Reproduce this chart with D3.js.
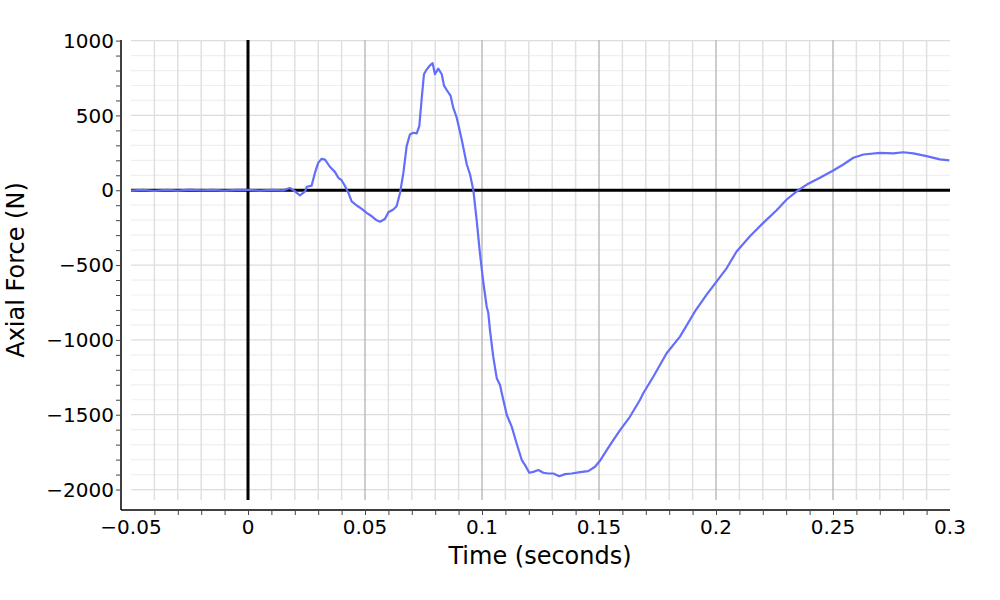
<html>
  <head>
    <meta charset="utf-8">
    <style>
      body { margin: 0; background: #fff; }
      svg { font-family: "DejaVu Sans", Verdana, sans-serif; }
      .trace {
        fill: none;
        stroke: #636efa;
        stroke-width: 2.2px;
        stroke-linejoin: round;
      }
      .tick-label { font-size: 20px; fill: #000; }
      .axis-title { font-size: 24px; fill: #000; }
    </style>
  </head>
<body>
  <svg width="1000" height="600"></svg>
  <script src="https://d3js.org/d3.v7.min.js"></script>
  <script>
    // time in seconds, axial force in newtons
    var timeS = [
      -0.0500, -0.0450, -0.0400, -0.0350, -0.0300, -0.0250, -0.0200, -0.0150,
      -0.0100, -0.0050, 0.0000, 0.0050, 0.0100, 0.0150, 0.0179, 0.0201,
      0.0222, 0.0244, 0.0251, 0.0272, 0.0286, 0.0300, 0.0315, 0.0329,
      0.0350, 0.0372, 0.0386, 0.0400, 0.0415, 0.0429, 0.0443, 0.0465,
      0.0486, 0.0507, 0.0529, 0.0550, 0.0564, 0.0585, 0.0600, 0.0621,
      0.0635, 0.0650, 0.0664, 0.0678, 0.0692, 0.0706, 0.0721, 0.0732,
      0.0742, 0.0752, 0.0764, 0.0778, 0.0789, 0.0799, 0.0813, 0.0828,
      0.0838, 0.0852, 0.0866, 0.0877, 0.0892, 0.0913, 0.0935, 0.0949,
      0.0963, 0.0977, 0.0991, 0.1006, 0.1020, 0.1027, 0.1034, 0.1048,
      0.1063, 0.1077, 0.1088, 0.1106, 0.1127, 0.1148, 0.1170, 0.1184,
      0.1202, 0.1219, 0.1241, 0.1262, 0.1283, 0.1305, 0.1330, 0.1355,
      0.1383, 0.1419, 0.1454, 0.1483, 0.1504, 0.1533, 0.1561, 0.1590,
      0.1632, 0.1675, 0.1689, 0.1732, 0.1789, 0.1846, 0.1910, 0.1960,
      0.2003, 0.2046, 0.2088, 0.2145, 0.2202, 0.2259, 0.2302, 0.2345,
      0.2388, 0.2444, 0.2501, 0.2544, 0.2587, 0.2630, 0.2701, 0.2758,
      0.2800, 0.2843, 0.2900, 0.2957, 0.2997
    ];
    var forceN = [
      -3, 2, -4, 3, -2, 4, 0, 3,
      -3, 2, 3, -2, 2, -1, 15, -7,
      -35, -7, 23, 31, 116, 183, 210, 205,
      157, 121, 83, 67, 27, -17, -74, -102,
      -125, -151, -174, -201, -210, -192, -147, -129,
      -107, -17, 116, 295, 373, 384, 380, 429,
      607, 775, 808, 835, 849, 775, 813, 775,
      697, 663, 630, 552, 485, 340, 172, 105,
      0, -196, -419, -620, -777, -821, -933, -1112,
      -1256, -1301, -1380, -1502, -1580, -1692, -1803, -1837,
      -1888, -1882, -1870, -1888, -1893, -1893, -1911, -1897,
      -1893, -1884, -1877, -1848, -1808, -1737, -1670, -1603,
      -1514, -1402, -1357, -1246, -1089, -978, -810, -698,
      -609, -520, -409, -308, -218, -134, -62, -7,
      38, 83, 132, 172, 217, 239, 250, 246,
      254, 246, 228, 206, 199
    ];
    var xTickValues = [-0.05, 0, 0.05, 0.1, 0.15, 0.2, 0.25, 0.3];
    var xTickLabels = ["\u22120.05", "0", "0.05", "0.1", "0.15", "0.2", "0.25", "0.3"];
    var yTickValues = [-2000, -1500, -1000, -500, 0, 500, 1000];
    var yTickLabels = ["\u22122000", "\u22121500", "\u22121000", "\u2212500", "0", "500", "1000"];
    var xTitle = "Time (seconds)";
    var yTitle = "Axial Force (N)";

    var data = timeS.map(function(t, i) { return {x: t, y: forceN[i]}; });

    var svg = d3.select("svg");
    var plot = {left: 131, right: 950, top: 40, bottom: 500};
    var axisOffset = 10;

    var x = d3.scaleLinear().domain([-0.05, 0.3]).range([plot.left, plot.right]);
    var y = d3.scaleLinear().domain([-2070, 1004]).range([plot.bottom, plot.top]);

    var xMinor = d3.range(-50, 301, 10).map(function(v) { return v / 1000; });
    var yMinor = d3.range(-2000, 1001, 100);
    var isMajorX = function(v) { return Math.abs(Math.round(v * 1000) % 50) === 0; };
    var xInner = xMinor.filter(function(d) { return d > -0.05 && d < 0.3; });

    var grid = svg.append("g");
    // horizontal grid
    grid.selectAll("line.hg").data(yMinor).enter().append("line")
      .attr("x1", plot.left).attr("x2", plot.right)
      .attr("y1", function(d) { return y(d); }).attr("y2", function(d) { return y(d); })
      .attr("stroke", function(d) { return d % 500 === 0 ? "#dcdcdc" : "#efefef"; })
      .attr("stroke-width", 1.2);
    // vertical grid
    grid.selectAll("line.vg").data(xInner).enter().append("line")
      .attr("y1", plot.top).attr("y2", plot.bottom)
      .attr("x1", function(d) { return x(d); }).attr("x2", function(d) { return x(d); })
      .attr("stroke", function(d) { return isMajorX(d) ? "#bdbdbd" : "#e0e0e0"; })
      .attr("stroke-width", 1.5);

    // zero lines
    svg.append("line")
      .attr("x1", plot.left).attr("x2", plot.right)
      .attr("y1", y(0)).attr("y2", y(0))
      .attr("stroke", "#000").attr("stroke-width", 3);
    svg.append("line")
      .attr("x1", x(0)).attr("x2", x(0))
      .attr("y1", plot.top).attr("y2", plot.bottom)
      .attr("stroke", "#000").attr("stroke-width", 3);

    var line = d3.line()
      .x(function(d) { return x(d.x); })
      .y(function(d) { return y(d.y); });

    svg.append("path")
      .datum(data)
      .attr("class", "trace")
      .attr("d", line);

    // x axis
    var xAxisY = plot.bottom + axisOffset;
    var gx = svg.append("g")
      .attr("transform", "translate(0," + xAxisY + ")")
      .call(d3.axisBottom(x).tickValues(xInner).tickSize(5).tickFormat(""));
    gx.select(".domain").attr("d", "M" + (plot.left - axisOffset) + ",0H" + plot.right)
      .attr("stroke", "#000").attr("stroke-width", 1.5);
    gx.selectAll(".tick line").attr("stroke", "#444").attr("stroke-width", 1);

    svg.append("g").selectAll("text").data(xTickValues).enter().append("text")
      .attr("class", "tick-label")
      .attr("x", function(d) { return x(d); })
      .attr("y", xAxisY + 24)
      .attr("text-anchor", "middle")
      .text(function(d, i) { return xTickLabels[i]; });

    // y axis
    var yAxisX = plot.left - axisOffset;
    var gy = svg.append("g")
      .attr("transform", "translate(" + yAxisX + ",0)")
      .call(d3.axisLeft(y).tickValues(yMinor).tickSize(5).tickFormat(""));
    gy.select(".domain").attr("d", "M0," + plot.top + "V" + (plot.bottom + axisOffset))
      .attr("stroke", "#000").attr("stroke-width", 1.5);
    gy.selectAll(".tick line").attr("stroke", "#444").attr("stroke-width", 1);

    svg.append("g").selectAll("text").data(yTickValues).enter().append("text")
      .attr("class", "tick-label")
      .attr("x", yAxisX - 7)
      .attr("y", function(d) { return y(d); })
      .attr("dy", "0.36em")
      .attr("text-anchor", "end")
      .text(function(d, i) { return yTickLabels[i]; });

    // titles
    svg.append("text")
      .attr("class", "axis-title")
      .attr("x", 540)
      .attr("y", 564)
      .attr("text-anchor", "middle")
      .text(xTitle);
    svg.append("text")
      .attr("class", "axis-title")
      .attr("transform", "translate(24," + ((plot.top + plot.bottom) / 2) + ") rotate(-90)")
      .attr("text-anchor", "middle")
      .text(yTitle);
  </script>
</body>
</html>
